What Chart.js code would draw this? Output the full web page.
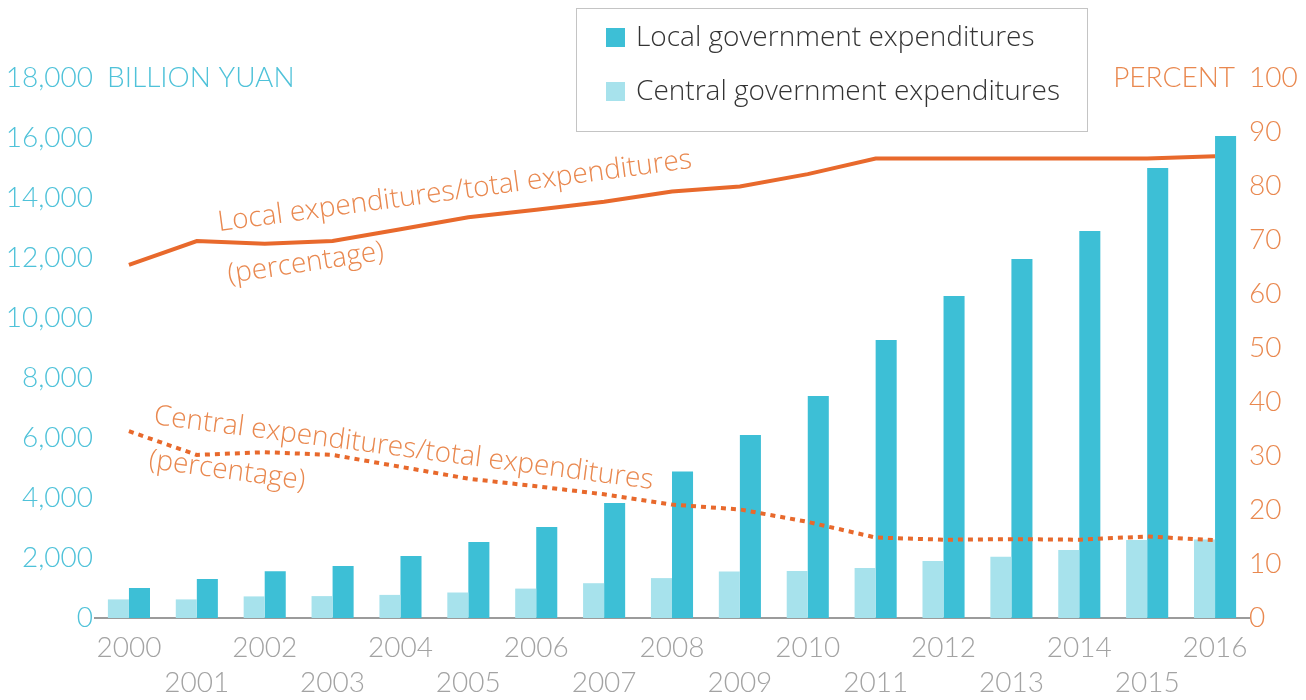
<!DOCTYPE html>
<html>
<head>
<meta charset="utf-8">
<script src="https://cdn.jsdelivr.net/npm/chart.js@4.4.1/dist/chart.umd.min.js"></script>
<style>
  html, body { margin: 0; padding: 0; background: #fff; }
  #wrap { position: relative; width: 1306px; height: 700px; }
</style>
</head>
<body>
<div id="wrap"><canvas id="chart" width="1306" height="700"></canvas></div>
<script>
// Years on the x axis
const years = ['2000', '2001', '2002', '2003', '2004', '2005', '2006', '2007', '2008',
  '2009', '2010', '2011', '2012', '2013', '2014', '2015', '2016']

// Expenditures, billion yuan (left axis)
const localSpending = [1000, 1300, 1560, 1730, 2070, 2530, 3030, 3830, 4880,
  6100, 7400, 9270, 10730, 11970, 12900, 15000, 16070]
const centralSpending = [620, 620, 720, 730, 770, 850, 980, 1160, 1330,
  1550, 1570, 1670, 1900, 2040, 2270, 2600, 2620]

// Share of total expenditures, percent (right axis)
const localShare = [65.4, 69.8, 69.3, 69.8, 72.0, 74.2, 75.6, 77.1, 79.0,
  79.9, 82.2, 85.1, 85.1, 85.1, 85.1, 85.1, 85.5]
const centralShare = [34.6, 30.2, 30.7, 30.2, 28.0, 25.8, 24.4, 22.9, 21.0,
  20.1, 17.8, 14.9, 14.5, 14.6, 14.5, 15.1, 14.4]

const TEAL = '#3dbfd6'
const TEAL_LIGHT = '#a7e2ec'
const ORANGE = '#e8692c'
const ORANGE_TEXT = '#e9884f'
const TEAL_TEXT = '#4fc2d9'
const GREY_TEXT = '#a3a3a3'

const tickFont = { family: 'Lato, "Open Sans", sans-serif', size: 28, weight: 300, lineHeight: 1.25 }
const noteFont = '300 28px "Open Sans", "Noto Sans", sans-serif'

// rotated notes beside the percentage lines
const notes = [
  { text: 'Local expenditures/total expenditures', x: 219, y: 231, angle: -7.6 },
  { text: '(percentage)', x: 229, y: 283, angle: -8.5 },
  { text: 'Central expenditures/total expenditures', x: 153, y: 424, angle: 7.4 },
  { text: '(percentage)', x: 148, y: 468, angle: 7.8 }
]

const decorations = {
  id: 'decorations',
  afterDraw(chart) {
    const { ctx, chartArea, scales } = chart
    ctx.save()

    // axis unit captions next to the top ticks
    ctx.font = tickFont.weight + ' ' + tickFont.size + 'px ' + tickFont.family
    ctx.textBaseline = 'middle'
    ctx.fillStyle = TEAL_TEXT
    ctx.textAlign = 'left'
    ctx.fillText('BILLION YUAN', chartArea.left + 12, scales.y.getPixelForValue(18000))
    ctx.fillStyle = ORANGE_TEXT
    ctx.textAlign = 'right'
    ctx.fillText('PERCENT', chartArea.right - 14, scales.y1.getPixelForValue(100))

    // line notes
    ctx.font = noteFont
    ctx.fillStyle = ORANGE_TEXT
    ctx.textAlign = 'left'
    ctx.textBaseline = 'alphabetic'
    notes.forEach(n => {
      ctx.save()
      ctx.translate(n.x, n.y)
      ctx.rotate(n.angle * Math.PI / 180)
      ctx.fillText(n.text, 0, 0)
      ctx.restore()
    })

    // legend box
    ctx.fillStyle = '#fff'
    ctx.fillRect(576.5, 8.5, 511, 123)
    ctx.strokeStyle = '#c4c4c4'
    ctx.lineWidth = 1
    ctx.strokeRect(576.5, 8.5, 511, 123)
    const items = [chart.data.datasets[1], chart.data.datasets[0]]
    ctx.font = '300 28px "Open Sans", "Noto Sans", sans-serif'
    ctx.textBaseline = 'middle'
    items.forEach((ds, i) => {
      const cy = 38 + i * 54
      ctx.fillStyle = ds.backgroundColor
      ctx.fillRect(606, cy - 10, 19, 19)
      ctx.fillStyle = '#333'
      ctx.fillText(ds.label, 636, cy)
    })
    ctx.restore()
  }
}

new Chart(document.getElementById('chart'), {
  type: 'bar',
  data: {
    labels: years,
    datasets: [
      {
        label: 'Central government expenditures',
        data: centralSpending,
        backgroundColor: TEAL_LIGHT,
        yAxisID: 'y',
        order: 2
      },
      {
        label: 'Local government expenditures',
        data: localSpending,
        backgroundColor: TEAL,
        yAxisID: 'y',
        order: 2
      },
      {
        type: 'line',
        label: 'Local expenditures/total expenditures (percentage)',
        data: localShare,
        borderColor: ORANGE,
        borderWidth: 4,
        pointRadius: 0,
        tension: 0,
        yAxisID: 'y1',
        order: 1
      },
      {
        type: 'line',
        label: 'Central expenditures/total expenditures (percentage)',
        data: centralShare,
        borderColor: ORANGE,
        borderWidth: 4,
        borderDash: [5, 5],
        pointRadius: 0,
        tension: 0,
        yAxisID: 'y1',
        order: 1
      }
    ]
  },
  options: {
    responsive: false,
    animation: false,
    categoryPercentage: 0.62,
    barPercentage: 1.0,
    layout: { padding: { top: 78, left: 0, right: 0, bottom: 0 } },
    plugins: {
      legend: { display: false },
      tooltip: { enabled: false }
    },
    scales: {
      x: {
        grid: { display: false, drawTicks: false },
        border: { display: true, color: '#9b9b9b', width: 2 },
        ticks: {
          color: GREY_TEXT,
          font: tickFont,
          padding: 12,
          maxRotation: 0,
          autoSkip: false,
          callback: (value, i) => i % 2 ? ['', years[i]] : years[i]
        },
        afterFit: (scale) => { scale.height = 82 }
      },
      y: {
        position: 'left',
        min: 0,
        max: 18000,
        grid: { display: false, drawTicks: false },
        border: { display: false },
        ticks: {
          stepSize: 2000,
          color: TEAL_TEXT,
          font: tickFont,
          padding: 2,
          callback: (v) => v.toLocaleString('en-US')
        },
        afterFit: (scale) => { scale.width = 95 }
      },
      y1: {
        position: 'right',
        min: 0,
        max: 100,
        grid: { display: false, drawTicks: false },
        border: { display: false },
        ticks: {
          stepSize: 10,
          color: ORANGE_TEXT,
          font: tickFont,
          padding: 0
        },
        afterFit: (scale) => { scale.width = 57 }
      }
    }
  },
  plugins: [decorations]
})
</script>
</body>
</html>
